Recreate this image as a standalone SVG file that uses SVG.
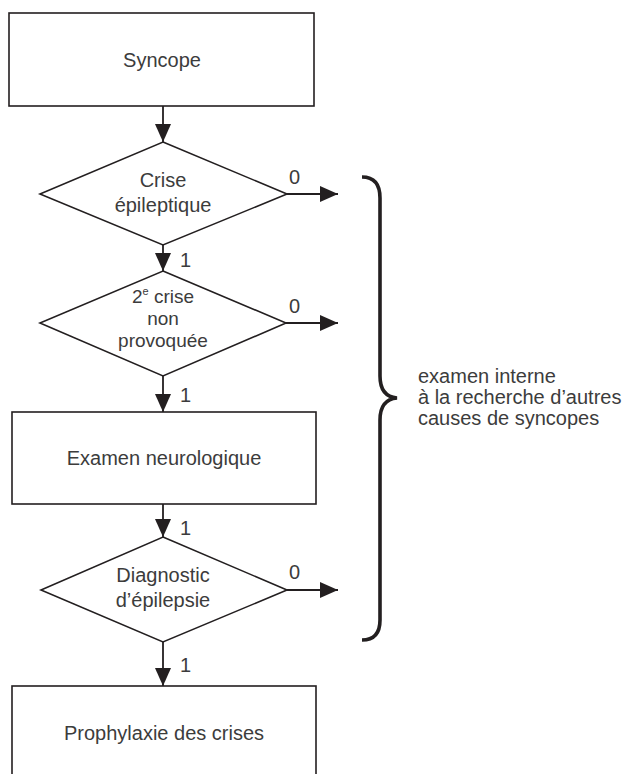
<svg xmlns="http://www.w3.org/2000/svg" width="624" height="774" viewBox="0 0 624 774">
<style>
.box{fill:#fff;stroke:#231f20;stroke-width:1.6}
.t{font-family:"Liberation Sans",Arial,sans-serif;font-size:20px;fill:#3c3c3c}
.c{text-anchor:middle}
.s{font-size:19px}
.ln{fill:none;stroke:#231f20;stroke-width:1.8}
.ah{fill:#231f20}
</style>
<defs>
<marker id="arr" markerUnits="userSpaceOnUse" markerWidth="18" markerHeight="18" viewBox="0 0 18 16" refX="18" refY="8" orient="auto">
<path class="ah" d="M0,0 L18,8 L0,16 Z"/>
</marker>
</defs>
<rect width="624" height="774" fill="#fff"/>
<g id="connectors">
<line class="ln" x1="163" y1="106" x2="163" y2="142" marker-end="url(#arr)"/>
<line class="ln" x1="163" y1="245" x2="163" y2="271" marker-end="url(#arr)"/>
<line class="ln" x1="163" y1="376" x2="163" y2="412" marker-end="url(#arr)"/>
<line class="ln" x1="163" y1="504" x2="163" y2="537" marker-end="url(#arr)"/>
<line class="ln" x1="163" y1="642" x2="163" y2="686" marker-end="url(#arr)"/>
<line class="ln" x1="287" y1="194" x2="338" y2="194" marker-end="url(#arr)"/>
<line class="ln" x1="286" y1="323" x2="338" y2="323" marker-end="url(#arr)"/>
<line class="ln" x1="287" y1="590" x2="338" y2="590" marker-end="url(#arr)"/>
<text class="t" x="289" y="184">0</text>
<text class="t" x="289" y="313">0</text>
<text class="t" x="289" y="579">0</text>
<text class="t" x="180" y="267">1</text>
<text class="t" x="180" y="402">1</text>
<text class="t" x="180" y="535">1</text>
<text class="t" x="180" y="672">1</text>
</g>
<g id="syncope">
<rect class="box" x="9" y="13" width="305" height="93"/>
<text class="t c" x="162" y="67">Syncope</text>
</g>
<g id="crise">
<polygon class="box" points="163,142 287,194 163,245 40,194"/>
<text class="t c" x="163" y="187">Crise</text>
<text class="t c" x="163" y="212">épileptique</text>
</g>
<g id="crise2">
<polygon class="box" points="163,271 286,323 163,376 40,323"/>
<text class="t c s" x="163" y="303">2<tspan font-size="11" dy="-8">e</tspan><tspan dy="8"> crise</tspan></text>
<text class="t c s" x="163" y="325">non</text>
<text class="t c s" x="163" y="347">provoquée</text>
</g>
<g id="examen">
<rect class="box" x="12" y="412" width="304" height="92"/>
<text class="t c" x="164" y="465">Examen neurologique</text>
</g>
<g id="diagnostic">
<polygon class="box" points="163,537 287,590 163,642 41,590"/>
<text class="t c" x="163" y="582">Diagnostic</text>
<text class="t c" x="163" y="607">d’épilepsie</text>
</g>
<g id="prophylaxie">
<rect class="box" x="12" y="686" width="304" height="110"/>
<text class="t c" x="164" y="740">Prophylaxie des crises</text>
</g>
<g id="brace">
<path d="M362,177 C374,177 380,184 380,198 L380,376 C380,390 386,397 397,398 C386,399 380,406 380,420 L380,620 C380,633 374,640 362,640" fill="none" stroke="#231f20" stroke-width="3.6" stroke-linecap="butt"/>
<text class="t" x="418" y="383">examen interne</text>
<text class="t" x="418" y="404">à la recherche d’autres</text>
<text class="t" x="418" y="425">causes de syncopes</text>
</g>
</svg>
